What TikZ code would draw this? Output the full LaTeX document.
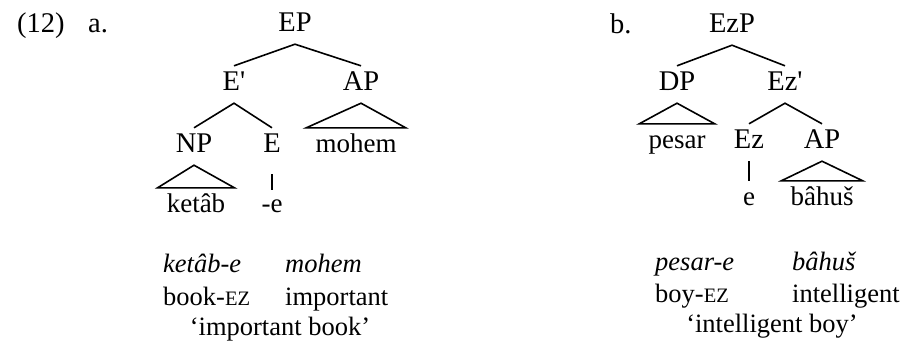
\documentclass[tikz,border=0pt]{standalone}
\usepackage{fontspec}
\setmainfont{Liberation Serif}
% tree labels: no TeX ligatures, so ' stays a straight prime
\newfontfamily\treefont{Liberation Serif}
\newcommand{\glossez}{{\fontsize{20.5}{22}\selectfont EZ}}

\begin{document}
\begin{tikzpicture}[x=1pt,y=-1pt,
  lbl/.style={anchor=base, font=\treefont\fontsize{28.5}{32}\selectfont, inner sep=0pt},
  cat/.style={lbl, text height=18pt, text depth=7pt, inner ysep=6pt, inner xsep=2pt},
  roof/.style={cat, font=\treefont\fontsize{27}{30}\selectfont, inner xsep=9pt},
  gl/.style={anchor=base west, font=\fontsize{26.5}{30}\selectfont, inner sep=0pt},
  trans/.style={gl, anchor=base},
  edge/.style={line width=1.6pt, line join=miter}]
\useasboundingbox (0,0) rectangle (904,343);

% ---------- (12a) ----------
\node[lbl, anchor=base west] (num) at (17,32) {(12)};
\node[lbl, anchor=base west] (lblA) at (88,32) {a.};

\node[cat] (EP) at (295,31) {EP};
\node[cat] (Ebar) at (234,90) {E'};
\node[cat] (APa) at (361,90) {AP};
\node[cat] (NP) at (194,152) {NP};
\node[cat] (E) at (272,152) {E};
\node[roof] (mohem) at (356,152) {mohem};
\node[roof] (ketab) at (196,212) {ketâb};
\node[roof, inner xsep=2pt] (suf) at (272,212) {-e};

\draw[edge] (Ebar.north) -- (EP.south) -- (APa.north);
\draw[edge] (NP.north) -- (Ebar.south) -- (E.north);
\draw[edge] (APa.south) -- (mohem.north west) -- (mohem.north east) -- cycle;
\draw[edge] (NP.south) -- (ketab.north west) -- (ketab.north east) -- cycle;
\draw[edge, shorten <=9pt, shorten >=-2pt] (E.south) -- (suf.north);

\node[gl] (g1a) at (163,272) {\itshape ketâb-e};
\node[gl] (g2a) at (285,272) {\itshape mohem};
\node[gl] (g3a) at (163,305) {book-\glossez};
\node[gl] (g4a) at (285,305) {important};
\node[trans] (tra) at (280,335) {`important book'};

% ---------- (12b) ----------
\node[lbl, anchor=base west] (lblB) at (610,33) {b.};

\node[cat] (EzP) at (732,32) {EzP};
\node[cat] (DP) at (677,90) {DP};
\node[cat] (Ezbar) at (785,90) {Ez'};
\node[roof] (pesar) at (677,148) {pesar};
\node[cat] (Ez) at (749,148) {Ez};
\node[cat] (APb) at (822,148) {AP};
\node[roof, inner xsep=2pt] (ee) at (749,205) {e};
\node[roof] (bahus) at (822,205) {bâhuš};

\draw[edge] (DP.north) -- (EzP.south) -- (Ezbar.north);
\draw[edge] (Ez.north) -- (Ezbar.south) -- (APb.north);
\draw[edge] (DP.south) -- (pesar.north west) -- (pesar.north east) -- cycle;
\draw[edge] (APb.south) -- (bahus.north west) -- (bahus.north east) -- cycle;
\draw[edge] (Ez.south) -- (ee.north);

\node[gl] (g1b) at (655,270) {\itshape pesar-e};
\node[gl] (g2b) at (792,270) {\itshape bâhuš};
\node[gl] (g3b) at (655,302) {boy-\glossez};
\node[gl] (g4b) at (792,302) {intelligent};
\node[trans] (trb) at (772,332) {`intelligent boy'};
\end{tikzpicture}
\end{document}
